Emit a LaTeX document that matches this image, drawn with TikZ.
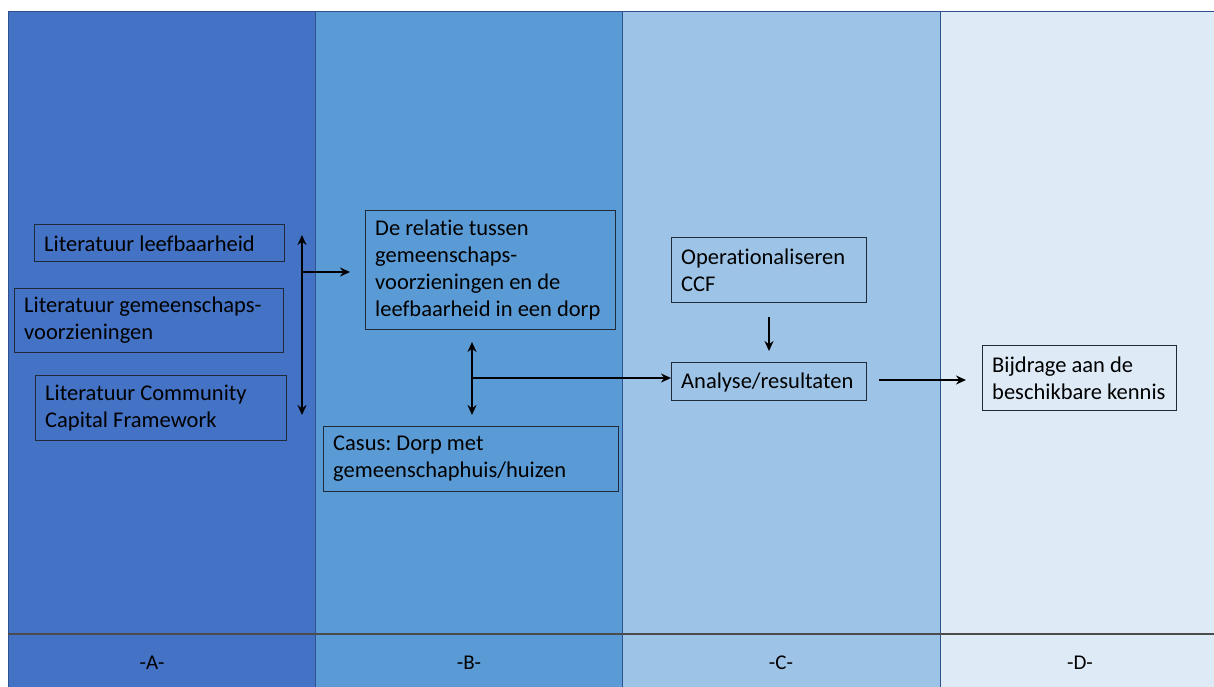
\documentclass[tikz,border=0pt]{standalone}
\usepackage{fontspec}
\setmainfont[Ligatures=NoCommon]{Carlito}
\usetikzlibrary{arrows.meta}
\definecolor{colA}{HTML}{4472C4}
\definecolor{colB}{HTML}{5B9BD5}
\definecolor{colC}{HTML}{9DC3E6}
\definecolor{colD}{HTML}{DEEBF7}
\definecolor{edgeblue}{HTML}{2F528F}
\definecolor{boxline}{HTML}{1F2A3A}
\frenchspacing
\tikzset{
  column/.style={draw=edgeblue, line width=0.8pt},
  box/.style={draw=boxline, line width=1.2pt, anchor=north west, inner sep=0pt},
  txt/.style={anchor=west, align=left, inner sep=0pt,
    font=\fontsize{22.5}{27}\selectfont, text=black},
  conn/.style={line width=2.6pt, -{Stealth[length=10pt,width=9pt]}},
  dconn/.style={line width=2.6pt, {Stealth[length=10pt,width=9pt]}-{Stealth[length=10pt,width=9pt]}},
  collabel/.style={font=\fontsize{21}{24}\selectfont, text=black}
}
\begin{document}
\begin{tikzpicture}[x=1pt,y=-1pt]
\useasboundingbox (0,0) rectangle (1214,686);
% columns
\fill[white] (0,0) rectangle (1214,686);
\filldraw[column, fill=colA] (8,11) rectangle (315,690);
\filldraw[column, fill=colB] (315,11) rectangle (622,690);
\filldraw[column, fill=colC] (622,11) rectangle (940,690);
\filldraw[column, fill=colD] (940,11) rectangle (1218,690);
\draw[line width=1.2pt, draw=black!70] (8,634) -- (1214,634);
\node[collabel] (la) at (152,663) {-A-};
\node[collabel] (lb) at (469,663) {-B-};
\node[collabel] (lc) at (781,663) {-C-};
\node[collabel] (ld) at (1080,663) {-D-};

% boxes
\node[box, minimum width=250pt, minimum height=37pt] (l1) at (34,224) {};
\node[txt] (l1t) at ([xshift=10pt,yshift=-1pt]l1.west) {Literatuur leefbaarheid};
\node[box, minimum width=269pt, minimum height=64pt] (l2) at (14,288) {};
\node[txt] (l2t) at ([xshift=10pt]l2.west) {Literatuur gemeenschaps-\\voorzieningen};
\node[box, minimum width=251pt, minimum height=65pt] (l3) at (35,375) {};
\node[txt] (l3t) at ([xshift=10pt]l3.west) {Literatuur Community\\Capital Framework};
\node[box, minimum width=250pt, minimum height=119pt] (rel) at (365,210) {};
\node[txt] (relt) at ([xshift=10pt]rel.west) {De relatie tussen\\gemeenschaps-\\voorzieningen en de\\leefbaarheid in een dorp};
\node[box, minimum width=295pt, minimum height=65pt] (cas) at (323,426) {};
\node[txt] (cast) at ([xshift=10pt]cas.west) {Casus: Dorp met\\gemeenschaphuis/huizen};
\node[box, minimum width=195pt, minimum height=65pt] (op) at (671,237) {};
\node[txt] (opt) at ([xshift=10pt]op.west) {Operationaliseren\\CCF};
\node[box, minimum width=195pt, minimum height=38pt] (an) at (671,362) {};
\node[txt] (ant) at ([xshift=10pt,yshift=-1pt]an.west) {Analyse/resultaten};
\node[box, minimum width=194pt, minimum height=65pt] (bij) at (982,345) {};
\node[txt] (bijt) at ([xshift=10pt]bij.west) {Bijdrage aan de\\beschikbare kennis};

% connectors
\coordinate (v1t) at (302,235);
\coordinate (v1b) at (302,415);
\coordinate (v1m) at (302,272);
\coordinate (h1e) at (350,272);
\draw[dconn] (v1t) -- (v1b);
\draw[conn] (v1m) -- (h1e);

\coordinate (v2t) at (472,342);
\coordinate (v2b) at (472,415);
\coordinate (v2m) at (472,378);
\draw[dconn] (v2t) -- (v2b);
\draw[conn] (v2m) -- (an.west |- v2m);

\coordinate (opb) at (769,317);
\coordinate (anT) at (769,351);
\draw[conn] (opb) -- (anT);

\coordinate (ae) at (879,380);
\coordinate (be) at (966,380);
\draw[conn] (ae) -- (be);
\end{tikzpicture}
\end{document}
